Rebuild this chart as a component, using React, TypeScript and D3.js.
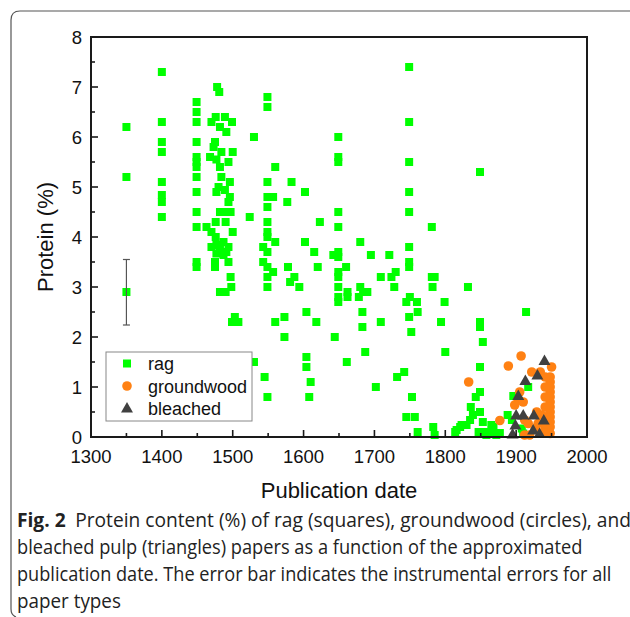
import React, { useLayoutEffect, useRef, useState } from "react";
import * as d3 from "d3";

// Rag paper samples: [publication year, protein %]
const ragYears = [
  1350, 1350, 1350,
  1400, 1400, 1400, 1400, 1400, 1400, 1400, 1400,
  1449, 1449, 1449, 1449, 1449, 1449, 1449, 1449, 1449, 1449, 1449, 1449, 1449,
  1478, 1481, 1470, 1476, 1489, 1499, 1482, 1491,
  1475, 1484, 1500, 1468, 1477, 1494, 1482, 1473,
  1484, 1496, 1480, 1477, 1489, 1496, 1494,
  1482, 1491, 1497, 1476, 1490, 1463, 1470, 1476, 1500,
  1470, 1477, 1487, 1494, 1482, 1491, 1477, 1487,
  1475, 1475, 1494, 1497, 1498, 1482, 1490,
  1503, 1499, 1508,
  1524, 1530,
  1549, 1549, 1549, 1549, 1549, 1549, 1549, 1549, 1549, 1549, 1549, 1549, 1549,
  1557, 1560, 1560, 1543, 1543, 1557, 1545, 1530, 1560,
  1583, 1602, 1577, 1623, 1602, 1615, 1578, 1620, 1587, 1581, 1594, 1604, 1573, 1618, 1573, 1604, 1604, 1610, 1608,
  1649, 1649, 1649, 1649, 1649, 1649, 1649, 1649, 1649, 1649, 1649, 1649,
  1642, 1644, 1661, 1660, 1662, 1662,
  1680, 1680, 1684, 1690, 1678, 1683, 1683, 1687, 1695, 1702, 1709, 1709,
  1721, 1724, 1730, 1728, 1732, 1742,
  1749, 1749, 1749, 1749, 1749, 1749, 1749, 1749, 1749,
  1745, 1750, 1760, 1761, 1752, 1753, 1745, 1757, 1761,
  1781, 1781, 1785, 1782, 1799, 1794, 1800, 1783, 1785,
  1814, 1821, 1832, 1849, 1849, 1853, 1849, 1849, 1849, 1843, 1836, 1839, 1849, 1835, 1853,
  1830, 1823, 1816, 1865, 1856, 1847, 1877, 1863, 1888, 1894, 1896, 1914, 1917,
  1868, 1858, 1872, 1908, 1910,
];
const ragProtein = [
  6.2, 5.2, 2.9,
  7.3, 6.3, 5.9, 5.7, 5.1, 4.84, 4.7, 4.4,
  6.7, 6.5, 6.3, 5.9, 5.6, 5.5, 5.4, 5.2, 4.9, 4.5, 4.2, 3.5, 3.4,
  7.0, 6.9, 6.3, 6.4, 6.4, 6.3, 6.2, 6.1,
  5.9, 5.7, 5.7, 5.6, 5.55, 5.5, 5.4, 5.8,
  5.2, 5.1, 5.0, 4.9, 4.94, 4.8, 4.7,
  4.5, 4.5, 4.5, 4.3, 4.3, 4.2, 4.1, 4.0, 4.1,
  3.8, 3.84, 3.9, 3.8, 3.74, 3.7, 3.67, 3.64,
  3.5, 3.4, 3.5, 3.2, 3.0, 2.9, 2.9,
  2.4, 2.3, 2.3,
  4.4, 6.0,
  6.8, 6.6, 5.1, 4.8, 4.6, 4.3, 4.1, 4.0, 3.7, 3.4, 3.2, 3.0, 0.8,
  4.8, 5.4, 3.9, 3.8, 3.5, 3.3, 1.2, 1.5, 2.3,
  5.1, 4.9, 4.7, 4.3, 3.9, 3.7, 3.4, 3.4, 3.2, 3.1, 3.0, 2.5, 2.4, 2.3, 2.0, 1.6, 1.4, 1.1, 0.8,
  6.0, 5.6, 5.5, 4.5, 4.2, 3.7, 3.6, 3.3, 3.2, 3.0, 2.8, 2.7,
  3.64, 2.0, 1.5, 3.4, 2.9, 2.8,
  3.9, 3.0, 2.9, 2.9, 2.8, 2.5, 2.2, 1.7, 3.64, 1.0, 3.2, 2.3,
  3.64, 3.2, 3.3, 3.0, 1.2, 1.3,
  7.4, 6.3, 5.5, 4.9, 4.5, 3.8, 3.5, 3.4, 2.4,
  2.7, 2.8, 2.7, 2.5, 2.1, 0.8, 0.4, 0.4, 0.1,
  4.2, 3.2, 3.2, 3.0, 2.7, 2.3, 1.7, 0.2, 0.04,
  0.1, 0.2, 3.0, 2.3, 2.2, 1.9, 1.4, 5.3, 0.9, 0.8, 0.6, 0.44, 0.5, 0.34, 0.3,
  0.24, 0.24, 0.14, 0.24, 0.1, 0.1, 0.08, 0.08, 0.44, 0.34, 0.82, 2.5, 1.0,
  0.2, 0.04, 0.04, 0.17, 0.07,
];

// Groundwood paper samples
const groundwoodYears = [
  1833, 1877, 1889, 1907, 1922, 1950,
  1948, 1948, 1948, 1948, 1948, 1948, 1948, 1948, 1948, 1948, 1948, 1948,
  1941, 1941, 1941, 1941, 1941, 1941,
  1934, 1905, 1903, 1910, 1898, 1912, 1917, 1931, 1927, 1912, 1919, 1934, 1941, 1936, 1929,
];
const groundwoodProtein = [
  1.1, 0.33, 1.42, 1.62, 1.3, 1.4,
  1.2, 1.1, 1.0, 0.9, 0.8, 0.7, 0.6, 0.5, 0.4, 0.3, 0.2, 0.07,
  1.2, 1.0, 0.8, 0.6, 0.4, 0.2,
  1.3, 0.9, 0.74, 0.7, 0.64, 0.34, 0.27, 0.27, 0.17, 0.04, 0.04, 0.08, 0.08, 0.44, 0.5,
];

// Bleached pulp paper samples
const bleachedYears = [1940, 1930, 1913, 1903, 1900, 1910, 1925, 1939, 1899, 1924, 1933, 1895];
const bleachedProtein = [1.53, 1.24, 1.13, 0.83, 0.44, 0.44, 0.44, 0.34, 0.24, 0.14, 0.07, 0.06];

// Instrumental error bar drawn at 1350
const errorBarYear = 1350;
const errorBarRange = [2.24, 3.55];

const xTickValues = [1300, 1400, 1500, 1600, 1700, 1800, 1900, 2000];
const yTickValues = [0, 1, 2, 3, 4, 5, 6, 7, 8];

const legendLabels = ["rag", "groundwood", "bleached"];

// Caption lines with the width each one is set to
const captionLines = [
  { bold: "Fig. 2", rest: "Protein content (%) of rag (squares), groundwood (circles), and", width: 605 },
  { bold: "", rest: "bleached pulp (triangles) papers as a function of the approximated", width: 566 },
  { bold: "", rest: "publication date. The error bar indicates the instrumental errors for all", width: 595 },
  { bold: "", rest: "paper types", width: 104 },
];

const RAG = "#00FF00";
const GROUND = "#FF8113";
const BLEACH = "#404040";
const AXIS = "#1a1a1a";

const left = 91, right = 587, top = 37, bottom = 437;

const x = d3.scaleLinear().domain([1300, 2000]).range([left, right]);
const y = d3.scaleLinear().domain([0, 8]).range([bottom, top]);

const SQ = 8;
const tri = d3.symbol().type(d3.symbolTriangle).size(62);

function Square({ cx, cy }: { cx: number; cy: number }) {
  return <rect x={cx - SQ / 2} y={cy - SQ / 2} width={SQ} height={SQ} fill={RAG} />;
}
function Dot({ cx, cy }: { cx: number; cy: number }) {
  return <circle cx={cx} cy={cy} r={4.8} fill={GROUND} />;
}
function Tri({ cx, cy }: { cx: number; cy: number }) {
  return <path d={tri() as string} transform={`translate(${cx},${cy + 1})`} fill={BLEACH} />;
}

const CAP_X = 17;

export default function App() {
  const font = "'Liberation Sans', Arial, sans-serif";
  const xMinor = d3.range(1350, 2000, 100);
  const yMinor = d3.range(0.5, 8, 1);
  const ebx = x(errorBarYear);

  // horizontally condense each caption line to its set width
  const capRefs = useRef<(SVGTextElement | null)[]>([]);
  const [capScale, setCapScale] = useState<number[]>(captionLines.map(() => 1));
  useLayoutEffect(() => {
    const s = captionLines.map((ln, i) => {
      const el = capRefs.current[i];
      const len = el ? el.getComputedTextLength() : 0;
      return len > 0 ? ln.width / len : 1;
    });
    setCapScale(s);
  }, []);

  return (
    <svg width={630} height={617} style={{ position: "absolute", left: 0, top: 0 }}>
      <rect width={630} height={617} fill="#fff" />
      {/* figure frame */}
      <path
        d="M 640 11 L 20 11 Q 11 11 11 20 L 11 609 Q 11 615 16 617"
        fill="none"
        stroke="#555"
        strokeWidth={1.2}
      />

      {/* data marks */}
      <g>
        {ragYears.map((yr, i) => (
          <Square key={`r${i}`} cx={x(yr)} cy={y(ragProtein[i])} />
        ))}
        {groundwoodYears.map((yr, i) => (
          <Dot key={`g${i}`} cx={x(yr)} cy={y(groundwoodProtein[i])} />
        ))}
        {bleachedYears.map((yr, i) => (
          <Tri key={`b${i}`} cx={x(yr)} cy={y(bleachedProtein[i])} />
        ))}
      </g>

      {/* error bar */}
      <g stroke="#555" strokeWidth={1.2}>
        <line x1={ebx} x2={ebx} y1={y(errorBarRange[0])} y2={y(errorBarRange[1])} />
        <line x1={ebx - 3.5} x2={ebx + 3.5} y1={y(errorBarRange[0])} y2={y(errorBarRange[0])} />
        <line x1={ebx - 3.5} x2={ebx + 3.5} y1={y(errorBarRange[1])} y2={y(errorBarRange[1])} />
      </g>

      {/* axes frame */}
      <rect x={left} y={top} width={right - left} height={bottom - top} fill="none" stroke={AXIS} strokeWidth={2} />

      {/* ticks */}
      <g stroke={AXIS} strokeWidth={1.6}>
        {xTickValues.map((v) => (
          <line key={`xt${v}`} x1={x(v)} x2={x(v)} y1={bottom} y2={bottom - 7} />
        ))}
        {xMinor.map((v) => (
          <line key={`xm${v}`} x1={x(v)} x2={x(v)} y1={bottom} y2={bottom - 4} />
        ))}
        {yTickValues.map((v) => (
          <line key={`yt${v}`} x1={left} x2={left + 7} y1={y(v)} y2={y(v)} />
        ))}
        {yMinor.map((v) => (
          <line key={`ym${v}`} x1={left} x2={left + 4} y1={y(v)} y2={y(v)} />
        ))}
      </g>

      {/* tick labels */}
      <g fontFamily={font} fontSize={18.5} fill="#111">
        {xTickValues.map((v) => (
          <text key={`xl${v}`} x={x(v)} y={463} textAnchor="middle">
            {v}
          </text>
        ))}
        {yTickValues.map((v) => (
          <text key={`yl${v}`} x={82} y={y(v) + 6.5} textAnchor="end">
            {v}
          </text>
        ))}
      </g>

      {/* axis titles */}
      <text x={339} y={498} textAnchor="middle" fontFamily={font} fontSize={22} fill="#111">
        Publication date
      </text>
      <text
        transform={`translate(53,${(top + bottom) / 2}) rotate(-90)`}
        textAnchor="middle"
        fontFamily={font}
        fontSize={22}
        fill="#111"
      >
        Protein (%)
      </text>

      {/* legend */}
      <g>
        <rect x={106} y={352} width={146} height={69} fill="#fff" stroke="#888" strokeWidth={1} />
        <Square cx={127} cy={363.5} />
        <Dot cx={127} cy={386} />
        <Tri cx={127} cy={408} />
        {legendLabels.map((t, i) => (
          <text key={t} x={148} y={370 + i * 22.5} fontFamily={font} fontSize={18} fill="#111">
            {t}
          </text>
        ))}
      </g>

      {/* caption */}
      <g fontFamily="'Open Sans', sans-serif" fontSize={20} fill="#222">
        {captionLines.map((ln, i) => (
          <g key={i} transform={`translate(${CAP_X},${527 + i * 27}) scale(${capScale[i]},1)`}>
            <text
              ref={(el) => {
                capRefs.current[i] = el;
              }}
              x={0}
              y={0}
            >
              {ln.bold && <tspan fontWeight="bold">{ln.bold}</tspan>}
              <tspan dx={ln.bold ? 10 : 0}>{ln.rest}</tspan>
            </text>
          </g>
        ))}
      </g>
    </svg>
  );
}
